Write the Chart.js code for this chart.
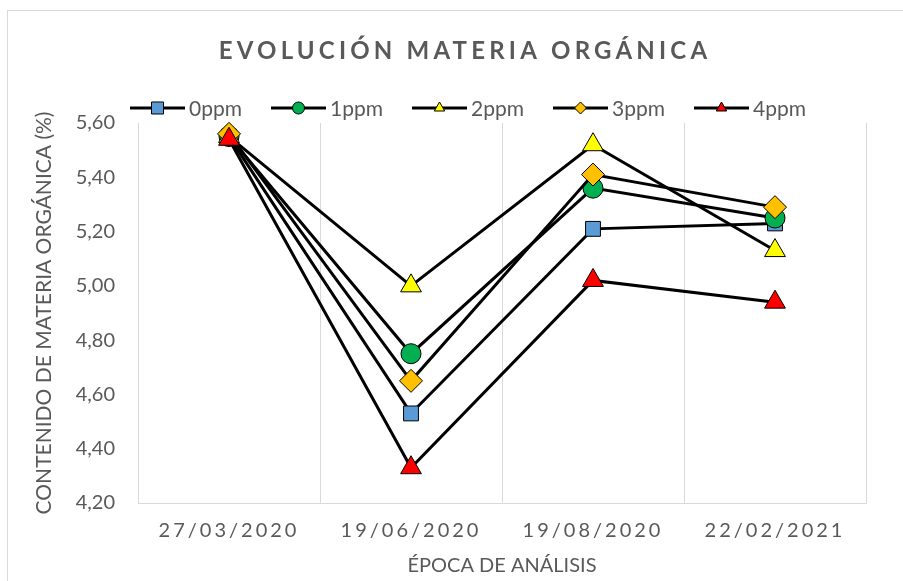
<!DOCTYPE html>
<html>
<head>
<meta charset="utf-8">
<script src="https://cdn.jsdelivr.net/npm/chart.js@4.4.1/dist/chart.umd.min.js"></script>
<style>
  html, body { margin: 0; padding: 0; background: #fff; overflow: hidden; }
  #wrap { position: relative; width: 903px; height: 581px; }
</style>
</head>
<body>
<div id="wrap"><canvas id="chart" width="903" height="581"></canvas></div>
<script>
const TEXT = '#595959'
const GRID = '#d9d9d9'
const FONT = "Lato, 'Open Sans', sans-serif"

// data
const categories = ['27/03/2020', '19/06/2020', '19/08/2020', '22/02/2021']
const seriesNames = ['0ppm', '1ppm', '2ppm', '3ppm', '4ppm']
const ppm0 = [5.55, 4.53, 5.21, 5.23]
const ppm1 = [5.55, 4.75, 5.36, 5.25]
const ppm2 = [5.55, 5.00, 5.52, 5.13]
const ppm3 = [5.56, 4.65, 5.41, 5.29]
const ppm4 = [5.54, 4.33, 5.02, 4.94]
const yMin = 4.2
const yMax = 5.6
const yStep = 0.2

const seriesValues = [ppm0, ppm1, ppm2, ppm3, ppm4]

// marker look per series
const markers = [
  { style: 'rect', fill: '#5b9bd5', radius: 10.5, legend: 8.5 },
  { style: 'circle', fill: '#00b050', radius: 10, legend: 6 },
  { style: 'triangle', fill: '#ffff00', radius: 12, legend: 6 },
  { style: 'rectRot', fill: '#ffc000', radius: 11.5, legend: 6 },
  { style: 'triangle', fill: '#ff0000', radius: 12, legend: 6 },
]

const datasets = seriesNames.map((name, i) => ({
  label: name,
  data: seriesValues[i],
  borderColor: '#000',
  borderWidth: 3,
  tension: 0,
  pointStyle: markers[i].style,
  pointRadius: markers[i].radius,
  pointHoverRadius: markers[i].radius,
  pointBackgroundColor: markers[i].fill,
  pointBorderColor: '#000',
  pointBorderWidth: 1,
  clip: false,
  order: seriesNames.length - 1 - i, // later series on top, like the original
}))

// outer frame + spaced title
const frameTitle = {
  id: 'frameTitle',
  beforeDraw(chart) {
    const ctx = chart.ctx
    ctx.save()
    ctx.strokeStyle = GRID
    ctx.lineWidth = 1
    ctx.strokeRect(7.5, 10.5, 1000, 1000)
    ctx.restore()
  },
  afterDraw(chart) {
    const ctx = chart.ctx
    ctx.save()
    ctx.font = `bold 24px ${FONT}`
    ctx.letterSpacing = '4.2px'
    ctx.fillStyle = TEXT
    ctx.textAlign = 'center'
    ctx.textBaseline = 'middle'
    ctx.fillText('EVOLUCIÓN MATERIA ORGÁNICA', 465, 51)
    ctx.restore()
  }
}

// legend with line + marker, as in Excel
const lineLegend = {
  id: 'lineLegend',
  afterDraw(chart) {
    const ctx = chart.ctx
    const lineLen = 55, gap = 4, itemGap = 29, y = 108
    ctx.save()
    ctx.font = `21px ${FONT}`
    const items = chart.data.datasets.map((ds, i) => ({ ds, i, w: lineLen + gap + ctx.measureText(ds.label).width }))
    const total = items.reduce((s, it) => s + it.w, 0) + itemGap * (items.length - 1)
    let x = 468 - total / 2
    items.forEach(({ ds, i, w }) => {
      ctx.strokeStyle = '#000'
      ctx.lineWidth = 3
      ctx.beginPath()
      ctx.moveTo(x, y)
      ctx.lineTo(x + lineLen, y)
      ctx.stroke()
      ctx.fillStyle = ds.pointBackgroundColor
      ctx.lineWidth = 1
      Chart.helpers.drawPoint(ctx, { pointStyle: ds.pointStyle, radius: markers[i].legend, borderWidth: 1, rotation: 0 }, x + lineLen / 2, y)
      ctx.fillStyle = TEXT
      ctx.textAlign = 'left'
      ctx.textBaseline = 'middle'
      ctx.fillText(ds.label, x + lineLen + gap, y + 1)
      x += w + itemGap
    })
    ctx.restore()
  }
}

// x tick labels are letter-spaced in the original
const spacedTicks = {
  id: 'spacedTicks',
  afterLayout(chart) {
    const sc = chart.scales.x
    if (sc._spaced) return
    const orig = sc.drawLabels
    sc.drawLabels = function (area) {
      this.ctx.save()
      this.ctx.letterSpacing = '3px'
      orig.call(this, area)
      this.ctx.restore()
    }
    sc._spaced = true
  }
}

new Chart(document.getElementById('chart'), {
  type: 'line',
  data: { labels: categories, datasets },
  options: {
    responsive: false,
    animation: false,
    layout: { padding: { left: 28, right: 37, top: 123, bottom: 0 } },
    scales: {
      x: {
        offset: true,
        grid: { offset: true, color: GRID, lineWidth: 1, drawTicks: false },
        border: { display: true, color: GRID, width: 1 },
        ticks: { color: TEXT, font: { family: FONT, size: 20 }, padding: 16, maxRotation: 0, autoSkip: false },
        title: { display: true, text: 'ÉPOCA DE ANÁLISIS', color: TEXT, font: { family: FONT, size: 20 }, padding: { top: 0, bottom: 3 } },
        afterFit: s => { s.height = 78 },
      },
      y: {
        min: yMin,
        max: yMax,
        grid: { display: false, drawTicks: false },
        border: { display: false },
        ticks: {
          stepSize: yStep,
          color: TEXT,
          font: { family: FONT, size: 20 },
          padding: 23,
          callback: v => v.toFixed(2).replace('.', ','),
        },
        title: { display: true, text: 'CONTENIDO DE MATERIA ORGÁNICA (%)', color: TEXT, font: { family: FONT, size: 21 }, padding: { top: 4, bottom: 0 } },
        afterFit: s => { s.width = 110 },
      },
    },
    plugins: {
      legend: { display: false },
      title: { display: false },
      tooltip: { enabled: false },
    },
  },
  plugins: [frameTitle, lineLegend, spacedTicks],
})
</script>
</body>
</html>
